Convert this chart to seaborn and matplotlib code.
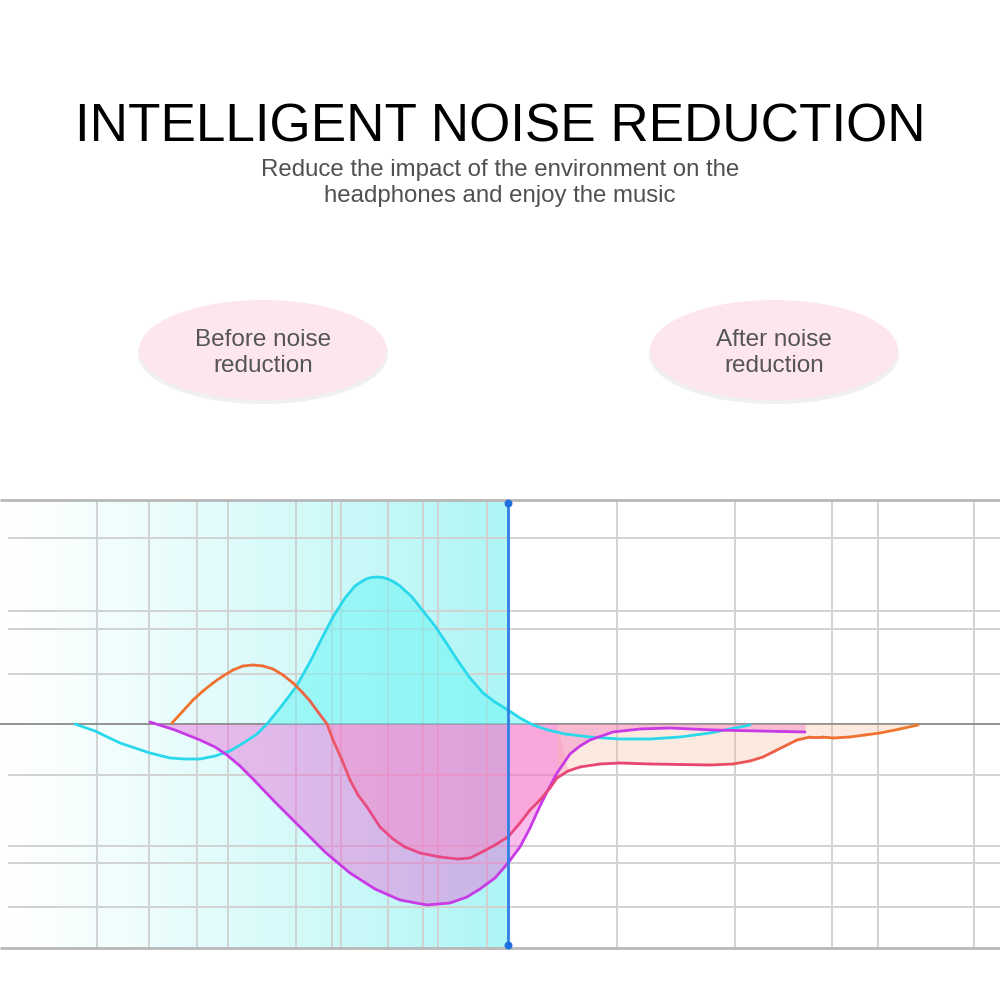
import numpy as np
import matplotlib
matplotlib.use("Agg")
import matplotlib.pyplot as plt
import seaborn as sns
from matplotlib.patches import Ellipse
from matplotlib.collections import LineCollection
from matplotlib.colors import LinearSegmentedColormap

# ---- data (x = time position, y = level relative to baseline) ----
cyan_x = [75, 95, 120, 150, 170, 185, 200, 215, 230, 245, 257, 267, 280, 296, 310, 322, 333, 345, 355, 361,
          366, 371, 377, 383, 388, 394, 400, 412, 423, 435, 447, 458, 470, 483, 495, 508, 520, 533, 548, 565,
          590, 620, 650, 680, 710, 735, 750]
cyan_y = [0, -7, -19, -29, -34, -35, -35, -32, -27, -18, -10, 0, 16, 37, 62, 86, 107, 126, 138, 142,
          145, 146.5, 147, 146.5, 145, 142, 138, 127, 113, 98, 80, 63, 46, 31, 22, 14, 6, -1, -6, -10,
          -13, -15, -15, -13, -9, -4, -1]

violet_x = [150, 175, 200, 215, 227, 240, 253, 275, 300, 325, 350, 375, 400, 427, 450, 467, 480, 495, 508,
            520, 530, 540, 548, 557, 570, 580, 590, 613, 640, 670, 713, 760, 805]
violet_y = [2, -6, -16, -23, -31, -42, -55, -78, -103, -128, -149, -165, -176, -181, -179, -173, -165, -154,
            -139, -123, -104, -82, -66, -49, -30, -22, -16, -8, -5, -4, -6, -7, -8]

orange_x = [172, 183, 193, 203, 213, 223, 233, 243, 253, 263, 273, 283, 293, 302, 310, 318, 327, 333, 342,
            350, 358, 367, 380, 393, 405, 420, 440, 458, 470, 482, 495, 508, 520, 530, 540, 550, 557, 568,
            580, 600, 620, 650, 680, 710, 733, 750, 763, 775, 787, 797, 810, 822, 833, 850, 865, 880, 900, 918]
orange_y = [1, 13, 24, 33, 41, 48, 54, 58, 59, 58, 55, 49, 41, 32, 23, 12, 0, -16, -36,
            -56, -71, -83, -103, -115, -123, -129, -133, -135, -134, -128, -121, -113, -99, -86, -76, -64, -54, -47,
            -43, -40, -39, -40, -40.5, -41, -40, -37, -33, -27, -21, -16, -13, -13, -14, -13, -11, -9, -5, -1]

grid_x = [97, 149, 197, 228, 296, 332, 341, 388, 423, 438, 487, 617, 735, 832, 878, 974]
grid_y = [186, 113, 95, 50, -51, -122, -139, -183]
marker_x = 508

sns.set_theme(style="white")
plt.rcParams['font.family'] = ['Liberation Sans', 'DejaVu Sans']

fig = plt.figure(figsize=(10, 10), dpi=100)

# ---- header layer (pixel coordinates) ----
bg = fig.add_axes([0, 0, 1, 1])
bg.set_xlim(0, 1000)
bg.set_ylim(1000, 0)
bg.axis("off")

bg.text(500, 128, "INTELLIGENT NOISE REDUCTION", ha="center", va="center", fontsize=38.2, color="black")
bg.text(500, 183, "Reduce the impact of the environment on the\nheadphones and enjoy the music",
        ha="center", va="center", fontsize=17.3, color="#505050", linespacing=1.22)

for cx, label in [(263, "Before noise\nreduction"), (774, "After noise\nreduction")]:
    bg.add_patch(Ellipse((cx, 354), 250, 100, color="#e6e6e6", alpha=0.6, lw=0))
    bg.add_patch(Ellipse((cx, 350), 248, 100, color="#fde6ee", lw=0))
    bg.text(cx, 353, label, ha="center", va="center", fontsize=17.5, color="#555555", linespacing=1.2)

# ---- chart ----
ax = fig.add_axes([0, 0.04, 1, 0.47])
ax.set_xlim(0, 1000)
ax.set_ylim(-236, 234)
ax.axis("off")

# cyan gradient backdrop up to the marker line
grad = np.linspace(0, 1, 256)[None, :] ** 1.2
cmap_bg = LinearSegmentedColormap.from_list("bgcyan", ["#ffffff", "#aef5f5"])
ax.imshow(grad, extent=[0, marker_x, -224, 224], aspect="auto", cmap=cmap_bg, zorder=0, origin="lower")

# grid
ax.hlines(grid_y, 8, 1000, color="#d2d2d2", lw=1.4, zorder=1)
ax.vlines(grid_x, -224, 224, color="#d2d2d2", lw=1.4, zorder=1)
ax.hlines([224, -224], 0, 1000, color="#b8b8b8", lw=2, zorder=1)
ax.hlines(0, 0, 1000, color="#8a8a8a", lw=1.3, zorder=1)

cx_arr, cy_arr = np.array(cyan_x), np.array(cyan_y)
vx_arr, vy_arr = np.array(violet_x), np.array(violet_y)
ox_arr, oy_arr = np.array(orange_x), np.array(orange_y)

# fills
ax.fill_between(cx_arr, cy_arr, 0, where=cy_arr > 0, interpolate=True, color="#6ff5f5", alpha=0.55, lw=0, zorder=2)
ax.fill_between(vx_arr, vy_arr, 0, color="#ee58d4", alpha=0.4, lw=0, zorder=2)
ax.fill_between(ox_arr, oy_arr, 0, where=(oy_arr <= 0) & (ox_arr <= 557), interpolate=True,
                color="#ff80c0", alpha=0.35, lw=0, zorder=2)
ax.fill_between(ox_arr, oy_arr, 0, where=(ox_arr >= 557), color="#f8b898", alpha=0.3, lw=0, zorder=2)

# lines
sns.lineplot(x=cyan_x, y=cyan_y, sort=False, color="#2ad8ec", lw=2, ax=ax, zorder=4,
             solid_joinstyle="round", solid_capstyle="round")
sns.lineplot(x=violet_x, y=violet_y, sort=False, color="#c83ae6", lw=2, ax=ax, zorder=4,
             solid_joinstyle="round", solid_capstyle="round")

pts = np.column_stack([ox_arr, oy_arr]).reshape(-1, 1, 2)
segs = np.concatenate([pts[:-1], pts[1:]], axis=1)
cmap_or = LinearSegmentedColormap.from_list(
    "orpink", [(0, "#f0742c"), (0.16, "#ee6a3a"), (0.26, "#e84a88"), (0.70, "#e8446e"), (0.84, "#f06a34"), (1, "#f07a2c")])
lc = LineCollection(segs, cmap=cmap_or, lw=2, zorder=4, capstyle="round", joinstyle="round")
lc.set_array((ox_arr[:-1] - ox_arr.min()) / (ox_arr.max() - ox_arr.min()))
lc.set_clim(0, 1)
ax.add_collection(lc)

# marker line
ax.vlines(marker_x, -221, 221, color="#2f7fe6", lw=2, zorder=5)
ax.scatter([marker_x, marker_x], [221, -221], s=22, color="#1f6fe0", zorder=6)

fig.savefig("out.png", dpi=100)
